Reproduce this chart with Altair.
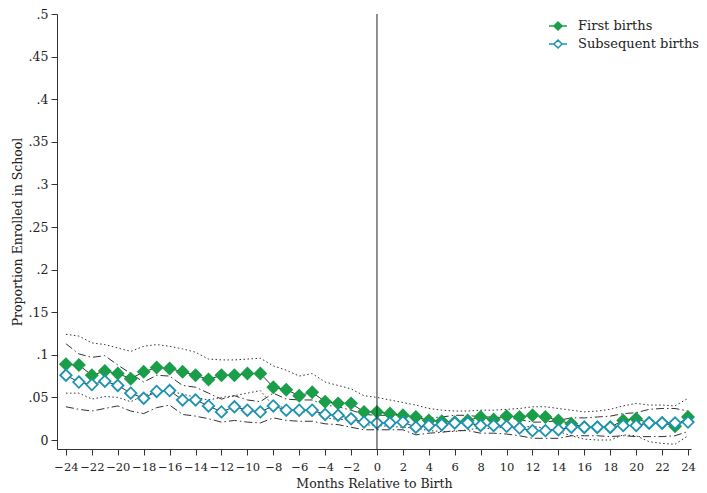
import altair as alt
import pandas as pd

months = list(range(-24, 25))

first_births = [0.089, 0.088, 0.076, 0.081, 0.078, 0.072, 0.080, 0.085, 0.084, 0.080,
                0.076, 0.071, 0.076, 0.076, 0.078, 0.078, 0.062, 0.059, 0.052, 0.056,
                0.045, 0.043, 0.043, 0.033, 0.033, 0.031, 0.029, 0.027, 0.023, 0.022,
                0.021, 0.023, 0.027, 0.024, 0.028, 0.027, 0.029, 0.027, 0.023, 0.019,
                0.015, 0.015, 0.015, 0.023, 0.025, 0.020, 0.020, 0.016, 0.027]

subsequent_births = [0.076, 0.068, 0.065, 0.069, 0.064, 0.055, 0.049, 0.057, 0.058, 0.047,
                     0.047, 0.040, 0.033, 0.039, 0.035, 0.033, 0.040, 0.035, 0.035, 0.035,
                     0.030, 0.029, 0.025, 0.021, 0.020, 0.020, 0.021, 0.015, 0.017, 0.018,
                     0.020, 0.020, 0.017, 0.017, 0.016, 0.014, 0.011, 0.011, 0.012, 0.015,
                     0.015, 0.015, 0.015, 0.017, 0.017, 0.020, 0.020, 0.020, 0.021]

first_upper = [0.124, 0.122, 0.114, 0.112, 0.108, 0.104, 0.110, 0.112, 0.110, 0.107,
               0.103, 0.095, 0.094, 0.094, 0.095, 0.096, 0.087, 0.082, 0.075, 0.078,
               0.068, 0.064, 0.060, 0.052, 0.050, 0.047, 0.044, 0.041, 0.037, 0.035,
               0.034, 0.034, 0.035, 0.035, 0.036, 0.037, 0.039, 0.039, 0.037, 0.035,
               0.033, 0.034, 0.036, 0.040, 0.043, 0.041, 0.041, 0.040, 0.049]

first_lower = [0.055, 0.055, 0.048, 0.051, 0.050, 0.045, 0.052, 0.057, 0.057, 0.054,
               0.050, 0.047, 0.050, 0.052, 0.055, 0.058, 0.040, 0.038, 0.032, 0.035,
               0.026, 0.024, 0.024, 0.018, 0.017, 0.016, 0.015, 0.014, 0.011, 0.010,
               0.010, 0.012, 0.014, 0.013, 0.016, 0.015, 0.016, 0.014, 0.010, 0.005,
               0.001, 0.000, 0.000, 0.006, 0.005, -0.002, -0.004, -0.005, 0.005]

subseq_upper = [0.113, 0.101, 0.097, 0.099, 0.088, 0.078, 0.068, 0.076, 0.075, 0.064,
                0.062, 0.055, 0.048, 0.052, 0.047, 0.045, 0.055, 0.048, 0.047, 0.047,
                0.041, 0.039, 0.035, 0.030, 0.029, 0.029, 0.030, 0.024, 0.026, 0.027,
                0.029, 0.029, 0.027, 0.027, 0.026, 0.024, 0.021, 0.021, 0.023, 0.026,
                0.026, 0.027, 0.028, 0.031, 0.032, 0.036, 0.037, 0.037, 0.034]

subseq_lower = [0.039, 0.036, 0.034, 0.037, 0.040, 0.034, 0.031, 0.038, 0.041, 0.030,
                0.028, 0.025, 0.021, 0.023, 0.021, 0.020, 0.026, 0.023, 0.022, 0.022,
                0.019, 0.018, 0.015, 0.012, 0.012, 0.012, 0.012, 0.006, 0.008, 0.009,
                0.011, 0.011, 0.008, 0.008, 0.007, 0.005, 0.002, 0.002, 0.002, 0.005,
                0.005, 0.005, 0.004, 0.005, 0.004, 0.004, 0.004, 0.005, 0.010]

series_names = ["First births", "Subsequent births"]
x_ticks = list(range(-24, 25, 2))
y_ticks = [0, 0.05, 0.1, 0.15, 0.2, 0.25, 0.3, 0.35, 0.4, 0.45, 0.5]

n = len(months)
pts = pd.DataFrame({
    "month": months * 2,
    "value": first_births + subsequent_births,
    "series": [series_names[0]] * n + [series_names[1]] * n,
})
ci_first = pd.DataFrame({
    "month": months * 2,
    "value": first_upper + first_lower,
    "bound": ["upper"] * n + ["lower"] * n,
})
ci_sub = pd.DataFrame({
    "month": months * 2,
    "value": subseq_upper + subseq_lower,
    "bound": ["upper"] * n + ["lower"] * n,
})
zero_line = pd.DataFrame({"month": [0]})

FONT = "DejaVu Serif"
GREEN = "#1a9e4a"
BLUE = "#1b93b3"

x_enc = alt.X("month:Q",
              scale=alt.Scale(domain=[-24.69, 24.23], nice=False, zero=False),
              axis=alt.Axis(values=x_ticks, title="Months Relative to Birth"))
y_enc = alt.Y("value:Q",
              scale=alt.Scale(domain=[-0.01056, 0.5], nice=False, zero=False),
              axis=alt.Axis(values=y_ticks, title="Proportion Enrolled in School",
                            labelExpr="datum.value == 0 ? '0' : substring(format(datum.value, '.2~f'), 1)"))

dotted = alt.Chart(ci_first).mark_line(
    color="#333333", strokeWidth=1, strokeDash=[1.5, 2.5]
).encode(x=x_enc, y=y_enc, detail="bound:N")

dashdot = alt.Chart(ci_sub).mark_line(
    color="#333333", strokeWidth=1, strokeDash=[8, 3, 1.5, 3]
).encode(x=x_enc, y=y_enc, detail="bound:N")

connect = alt.Chart(pts).mark_line(color="#333333", strokeWidth=1).encode(
    x=x_enc, y=y_enc, detail="series:N")

legend_path = "M-1,0L-0.45,0M0.45,0L1,0M-0.45,0L0,-0.45L0.45,0L0,0.45Z"


def make_legend():
    return alt.Legend(title=None, orient="none", legendX=491, legendY=2,
                      symbolType=legend_path, symbolSize=324,
                      symbolStrokeWidth=1.5, labelOffset=10,
                      labelFont=FONT, labelFontSize=13, labelColor="#222222",
                      rowPadding=0, padding=0)


points = alt.Chart(pts).mark_point(shape="diamond", size=130, strokeWidth=1.8, opacity=1).encode(
    x=x_enc, y=y_enc,
    fill=alt.Fill("series:N", scale=alt.Scale(domain=series_names, range=[GREEN, "white"]),
                  legend=make_legend()),
    stroke=alt.Stroke("series:N", scale=alt.Scale(domain=series_names, range=[GREEN, BLUE]),
                      legend=make_legend()),
)

rule = alt.Chart(zero_line).mark_rule(color="#222222", strokeWidth=1).encode(x=x_enc)

chart = alt.layer(dotted, dashdot, connect, points, rule).properties(
    width=634, height=435,
    autosize=alt.AutoSizeParams(type="none"),
    padding={"left": 49, "top": 6, "right": 8, "bottom": 50},
).configure_view(stroke=None).configure_axis(
    grid=False, labelFont=FONT, titleFont=FONT, titleFontSize=12.5,
    titleFontWeight="normal", labelColor="#222222", titleColor="#222222",
    domainColor="#333333", tickColor="#333333", tickSize=6,
).configure_axisX(labelFontSize=11.5, labelPadding=6, titlePadding=5,
                  labelFlush=False).configure_axisY(
    labelFontSize=12.5, labelPadding=3, titlePadding=4, labelFlush=False
)

chart.save("out.html", embed_options={"renderer": "svg", "actions": False})
